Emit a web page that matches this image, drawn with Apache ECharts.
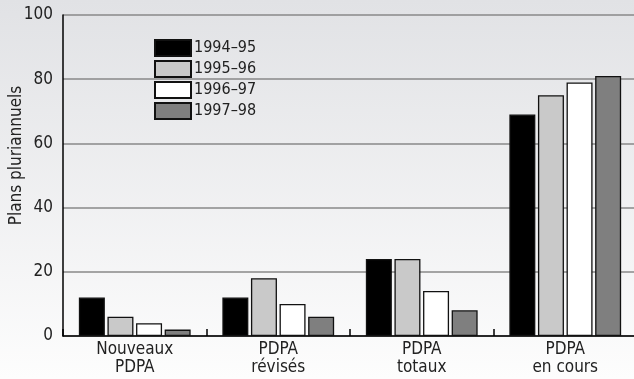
<!DOCTYPE html>
<html>
<head>
<meta charset="utf-8">
<script src="https://cdn.jsdelivr.net/npm/echarts@6/dist/echarts.min.js"></script>
<style>
  html, body { margin: 0; padding: 0; }
  #chart { width: 634px; height: 379px; }
</style>
</head>
<body>
<div id="chart"></div>
<script>
var categories = ['Nouveaux\nPDPA', 'PDPA\nrévisés', 'PDPA\ntotaux', 'PDPA\nen cours'];
var seriesNames = ['1994–95', '1995–96', '1996–97', '1997–98'];
var values9495 = [12, 12, 24, 69];
var values9596 = [6, 18, 24, 75];
var values9697 = [4, 10, 14, 79];
var values9798 = [2, 6, 8, 81];
var yTicks = [0, 20, 40, 60, 80, 100];

var fontFam = '"Liberation Sans Narrow", "DejaVu Sans Condensed", "Liberation Sans", sans-serif';
var fills = ['#000000', '#c9c9c9', '#ffffff', '#7f7f7f'];
var allValues = [values9495, values9596, values9697, values9798];

var chart = echarts.init(document.getElementById('chart'));

var option = {
  backgroundColor: {
    type: 'linear', x: 0, y: 0, x2: 0, y2: 1,
    colorStops: [
      { offset: 0, color: '#e1e2e5' },
      { offset: 1, color: '#fdfdfd' }
    ]
  },
  animation: false,
  legend: {
    data: seriesNames,
    orient: 'vertical',
    left: 154,
    top: 39,
    padding: 0,
    itemWidth: 36,
    itemHeight: 16,
    itemGap: 3,
    icon: 'rect',
    textStyle: { fontFamily: fontFam, fontSize: 16, lineHeight: 16, color: '#222', padding: [0, 0, 0, -2] }
  },
  grid: { left: 63, right: -3, top: 15, bottom: 43, outerBoundsMode: 'none' },
  xAxis: {
    type: 'category',
    data: categories,
    axisLine: { lineStyle: { color: '#000', width: 1.5 } },
    axisTick: { show: true, inside: true, length: 7, lineStyle: { color: '#000', width: 1.5 } },
    axisLabel: { fontFamily: fontFam, fontSize: 17, color: '#222', lineHeight: 18, margin: 5 }
  },
  yAxis: {
    type: 'value',
    min: 0,
    max: 100,
    interval: 20,
    name: 'Plans pluriannuels',
    nameLocation: 'middle',
    nameGap: 38,
    nameMoveOverlap: false,
    nameTextStyle: { fontFamily: fontFam, fontSize: 17, color: '#222', padding: [0, 0, 0, 40] },
    axisLine: { show: true, lineStyle: { color: '#000', width: 1.5 } },
    axisTick: { show: false },
    axisLabel: {
      fontFamily: fontFam, fontSize: 17, color: '#222', margin: 10,
      formatter: function (v) { return yTicks.indexOf(v) >= 0 ? String(v) : ''; }
    },
    splitLine: { lineStyle: { color: '#888888', width: 1.5 } }
  },
  series: seriesNames.map(function (name, i) {
    return {
      name: name,
      type: 'bar',
      data: allValues[i],
      barWidth: 26,
      barGap: '10%',
      itemStyle: { color: fills[i], borderColor: '#111', borderWidth: 1.3 }
    };
  })
};

chart.setOption(option);
</script>
</body>
</html>
